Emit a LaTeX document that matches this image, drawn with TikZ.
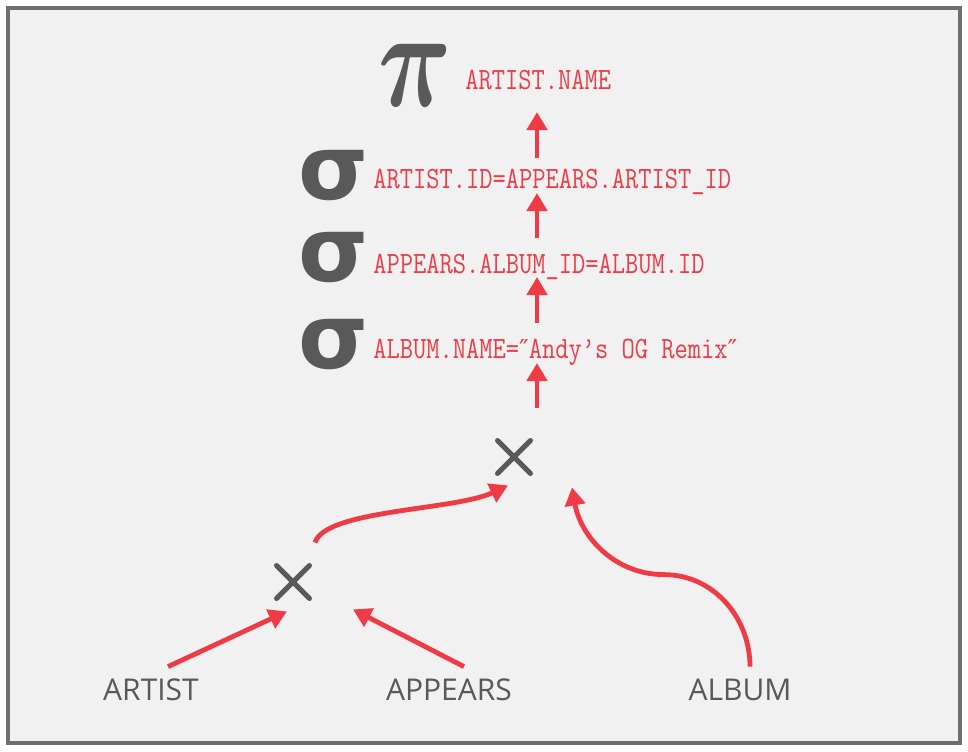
\documentclass[tikz,border=0pt]{standalone}
\usepackage{amsmath,amssymb}
\usepackage{fontspec}
\usepackage{xcolor}
\usepackage{tikz}
\usetikzlibrary{arrows.meta,positioning,calc}
\newfontfamily\exprfont[FakeStretch=0.83]{Latin Modern Mono}
\newfontfamily\primefont{DejaVu Sans}
\newfontfamily\relfont{Open Sans}
\newfontfamily\opfont{DejaVu Sans}
\newcommand{\dprime}{{\primefont\fontsize{13}{16}\selectfont ″}}
\definecolor{framegray}{RGB}{110,110,110}
\definecolor{panelgray}{RGB}{241,241,241}
\definecolor{symgray}{RGB}{89,89,89}
\definecolor{exprred}{RGB}{238,59,69}
\tikzset{
  opsym/.style={
    inner sep=0pt,
    text=symgray,
    font=\opfont\bfseries\fontsize{45}{45}\selectfont
  },
  exprtext/.style={
    inner sep=0pt,
    anchor=base west,
    text=exprred,
    text height=11pt,
    text depth=2pt,
    font=\exprfont\fontsize{15.5}{16}\selectfont
  },
  relname/.style={
    inner sep=0pt,
    anchor=base,
    text=symgray,
    text height=11pt,
    text depth=0pt,
    font=\relfont\fontsize{15}{16}\selectfont
  },
  crossop/.style={
    rectangle,
    minimum size=20pt,
    inner sep=0pt,
    path picture={
      \draw[symgray, line width=2.5pt, line cap=round]
        ([shift={(1.75pt,1.75pt)}]path picture bounding box.south west) --
        ([shift={(-1.75pt,-1.75pt)}]path picture bounding box.north east)
        ([shift={(1.75pt,-1.75pt)}]path picture bounding box.north west) --
        ([shift={(-1.75pt,1.75pt)}]path picture bounding box.south east);
    }
  },
  flow/.style={-{Triangle[length=9pt,width=10pt]}, line width=2.4pt, exprred}
}
\begin{document}
\begin{tikzpicture}[x=0.5pt,y=0.5pt]
\useasboundingbox (0,0) rectangle (968,-751);
\draw[framegray, line width=2pt, fill=panelgray] (8,-8) rectangle (960,-743);
% operators
\node[inner sep=0pt, text=symgray] (pi) at (415,-75) {\scalebox{5.1}[7]{$\boldsymbol{\pi}$}};
\node[opsym] (sig1) at (334,-176) {σ};
\node[opsym] (sig2) at (334,-258) {σ};
\node[opsym] (sig3) at (334,-345) {σ};
\node[exprtext] (proj) at (465,-89) {ARTIST.NAME};
\node[exprtext] (cond1) at (373,-188) {ARTIST.ID=APPEARS.ARTIST\_ID};
\node[exprtext] (cond2) at (373,-273) {APPEARS.ALBUM\_ID=ALBUM.ID};
\node[exprtext] (cond3) at (373,-358) {ALBUM.NAME=\dprime Andy’s OG Remix\dprime};
\node[crossop] (j2) at (514,-457) {};
\node[crossop] (j1) at (293,-582) {};
% relations
\node[relname] (artist) at (151,-700) {ARTIST};
\node[relname] (appears) at (449,-700) {APPEARS};
\node[relname] (album) at (740,-700) {ALBUM};
% edges
\draw[flow] ([xshift=8.5pt,yshift=5.5pt]artist.north) -- ([xshift=-3pt,yshift=-4.5pt]j1.south);
\draw[flow] ([xshift=7.5pt,yshift=5.5pt]appears.north) -- ([xshift=30pt,yshift=-3.5pt]j1.south);
\draw[flow] ([xshift=11pt,yshift=9.5pt]j1.north) .. controls +(10,33) and +(-53,-25) .. ([xshift=-3pt,yshift=-4pt]j2.south);
\draw[flow] ([xshift=5pt,yshift=5.5pt]album.north) to[out=90,in=0] ++(-86,92) to[out=180,in=-80] ([xshift=29pt,yshift=-5pt]j2.south);
\draw[flow] ([xshift=11.5pt,yshift=14.5pt]j2.north) -- ([xshift=82pt,yshift=-2.5pt]cond3.base west);
\draw[flow] ([xshift=82pt,yshift=17.5pt]cond3.base west) -- ([xshift=82pt,yshift=-2pt]cond2.base west);
\draw[flow] ([xshift=82pt,yshift=17.5pt]cond2.base west) -- ([xshift=82pt,yshift=-2.5pt]cond1.base west);
\draw[flow] ([xshift=82pt,yshift=15pt]cond1.base west) -- ([xshift=36pt,yshift=-11.5pt]proj.base west);
\end{tikzpicture}
\end{document}
